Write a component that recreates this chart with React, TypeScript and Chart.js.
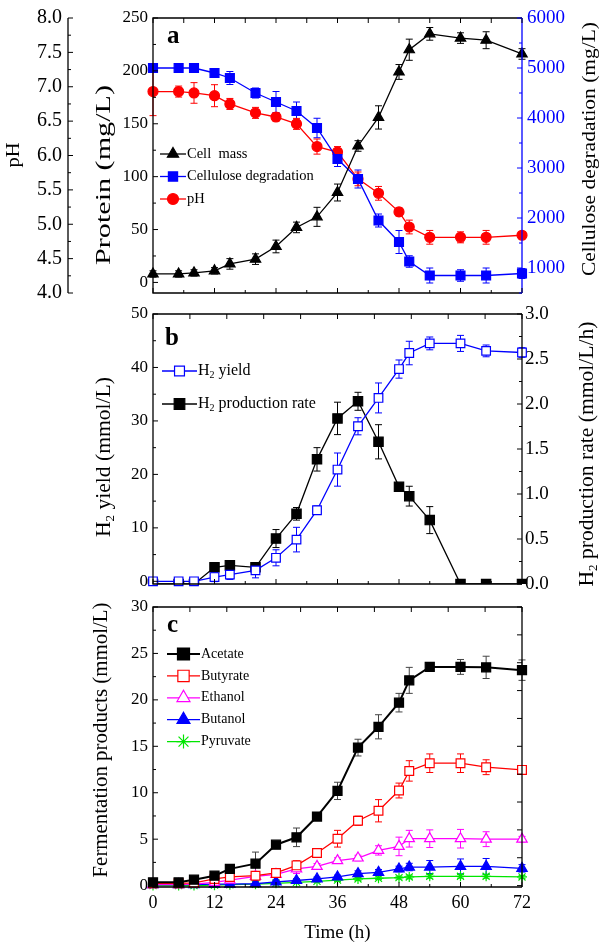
import React, { useEffect, useRef } from 'react';
import { Chart, registerables } from 'chart.js';

Chart.register(...registerables);

const SERIF = '"Liberation Serif", "Times New Roman", Times, serif';
const BLACK = '#000000';
const BLUE = '#0000ff';
const RED = '#ff0000';
const MAGENTA = '#ff00ff';
const GREEN = '#00e600';

// ---------------- data ----------------
const time = [0, 5, 8, 12, 15, 20, 24, 28, 32, 36, 40, 44, 48, 50, 54, 60, 65, 72];

// panel a
const cellMass = [8, 8, 9, 11, 17.5, 22, 34, 52, 62, 85, 129, 156, 199, 220, 235, 231, 229, 216];
const cellMassErr = [3, 3, 3, 3, 5, 5, 6, 5, 9, 8, 5, 11, 7, 10, 6, 5, 8, 5];
const cellulose = [5000, 5000, 5000, 4900, 4800, 4500, 4320, 4140, 3800, 3180, 2780, 1950, 1520, 1130, 850, 850, 850, 890];
const celluloseErr = [50, 60, 70, 80, 130, 100, 210, 180, 195, 150, 180, 130, 230, 115, 150, 115, 150, 100];
const pHValues = [6.93, 6.93, 6.91, 6.87, 6.75, 6.62, 6.56, 6.46, 6.13, 6.05, 5.66, 5.45, 5.18, 4.96, 4.81, 4.81, 4.81, 4.84];
const pHErr = [0.35, 0.08, 0.15, 0.16, 0.08, 0.08, 0.06, 0.08, 0.11, 0.08, 0.1, 0.1, 0.06, 0.1, 0.1, 0.08, 0.1, 0.05];

// panel b
const h2Yield = [0, 0, 0, 0.8, 1.25, 2.05, 4.4, 7.8, 13.3, 20.9, 29.0, 34.3, 39.7, 42.7, 44.5, 44.5, 43.1, 42.8];
const h2YieldErr = [0.2, 0.2, 0.2, 0.85, 0.9, 1.4, 1.5, 2.3, 0.8, 3.1, 1.6, 2.8, 1.7, 2.2, 1.2, 1.5, 1.1, 0.9];
const h2Rate = [0, 0, 0, 0.185, 0.207, 0.185, 0.505, 0.78, 1.385, 1.84, 2.03, 1.58, 1.08, 0.976, 0.71, 0, 0, 0];
const h2RateErr = [0, 0, 0, 0.03, 0.03, 0.03, 0.1, 0.07, 0.13, 0.18, 0.1, 0.19, 0.03, 0.11, 0.15, 0, 0, 0];

// panel c
const acetate = [0.35, 0.35, 0.64, 1.07, 1.8, 2.36, 4.4, 5.2, 7.44, 10.2, 14.86, 17.1, 19.7, 22.1, 23.55, 23.55, 23.5, 23.2];
const acetateErr = [0.2, 0.2, 0.2, 0.2, 0.2, 1.25, 0.3, 1.0, 0.3, 0.93, 0.9, 1.3, 1.0, 1.4, 0.3, 0.8, 1.2, 1.1];
const butyrate = [0.25, 0.25, 0.3, 0.72, 0.93, 1.07, 1.36, 2.18, 3.51, 5.05, 6.98, 8.06, 10.24, 12.35, 13.18, 13.18, 12.75, 12.46];
const butyrateErr = [0.1, 0.1, 0.1, 0.2, 0.2, 0.3, 0.2, 0.5, 0.3, 0.9, 0.5, 1.2, 0.8, 1.1, 1.0, 1.0, 0.8, 0.3];
const ethanol = [0.1, 0.1, 0.15, 0.35, 0.6, 1.0, 1.2, 1.8, 2.07, 2.69, 2.97, 3.79, 4.22, 5.05, 5.05, 5.05, 5.0, 5.0];
const ethanolErr = [0.1, 0.1, 0.1, 0.2, 0.3, 0.4, 0.2, 0.5, 0.3, 0.3, 0.3, 0.5, 1.0, 0.9, 0.95, 1.0, 0.8, 0.3];
const butanol = [0.1, 0.1, 0.1, 0.15, 0.15, 0.2, 0.4, 0.55, 0.72, 0.93, 1.29, 1.43, 1.79, 2.0, 2.0, 2.07, 2.07, 1.86];
const butanolErr = [0.1, 0.1, 0.1, 0.1, 0.1, 0.2, 0.2, 0.2, 0.2, 0.2, 0.3, 0.3, 0.3, 0.4, 0.7, 0.8, 0.85, 0.4];
const pyruvate = [0, 0, 0, 0.05, 0.1, 0.15, 0.25, 0.35, 0.46, 0.6, 0.72, 0.79, 0.86, 0.93, 1.0, 1.0, 1.0, 0.93];
const pyruvateErr = [0.1, 0.1, 0.1, 0.1, 0.1, 0.1, 0.1, 0.1, 0.1, 0.15, 0.15, 0.15, 0.15, 0.2, 0.2, 0.2, 0.2, 0.15];

// ticks
const timeTicks = [0, 12, 24, 36, 48, 60, 72];
const proteinTicks = [0, 50, 100, 150, 200, 250];
const pHTicks = [4.0, 4.5, 5.0, 5.5, 6.0, 6.5, 7.0, 7.5, 8.0];
const celluloseTicks = [1000, 2000, 3000, 4000, 5000, 6000];
const yieldTicks = [0, 10, 20, 30, 40, 50];
const rateTicks = [0, 0.5, 1.0, 1.5, 2.0, 2.5, 3.0];
const productTicks = [0, 5, 10, 15, 20, 25, 30];

// ---------------- helpers ----------------
type Part = { t: string; sub?: boolean };

function drawRich(
  ctx: CanvasRenderingContext2D,
  parts: Part[],
  x: number,
  y: number,
  size: number,
  o: { rotate?: number; len?: number; bold?: boolean; color?: string; left?: boolean } = {}
) {
  ctx.save();
  ctx.translate(x, y);
  if (o.rotate) ctx.rotate(o.rotate);
  const fontFor = (p: Part) => `${o.bold ? 'bold ' : ''}${p.sub ? Math.round(size * 0.62) : size}px ${SERIF}`;
  let total = 0;
  const widths = parts.map((p) => {
    ctx.font = fontFor(p);
    const w = ctx.measureText(p.t).width;
    total += w;
    return w;
  });
  if (o.len) ctx.scale(o.len / total, 1);
  let cx = o.left ? 0 : -total / 2;
  ctx.textBaseline = 'middle';
  ctx.textAlign = 'left';
  ctx.fillStyle = o.color || BLACK;
  parts.forEach((p, i) => {
    ctx.font = fontFor(p);
    ctx.fillText(p.t, cx, p.sub ? size * 0.3 : 0);
    cx += widths[i];
  });
  ctx.restore();
}

function drawMarker(ctx: CanvasRenderingContext2D, style: string, x: number, y: number, r: number, fill: string, stroke: string, lw: number) {
  ctx.save();
  ctx.beginPath();
  ctx.lineWidth = lw;
  ctx.strokeStyle = stroke;
  ctx.fillStyle = fill;
  if (style === 'rect') {
    const s = r * Math.SQRT1_2;
    ctx.rect(x - s, y - s, 2 * s, 2 * s);
  } else if (style === 'circle') {
    ctx.arc(x, y, r, 0, Math.PI * 2);
  } else if (style === 'triangle') {
    ctx.moveTo(x, y - r);
    ctx.lineTo(x + r * 0.866, y + r / 2);
    ctx.lineTo(x - r * 0.866, y + r / 2);
    ctx.closePath();
  } else if (style === 'star') {
    const d = r * Math.SQRT1_2;
    ctx.moveTo(x - r, y); ctx.lineTo(x + r, y);
    ctx.moveTo(x, y - r); ctx.lineTo(x, y + r);
    ctx.moveTo(x - d, y - d); ctx.lineTo(x + d, y + d);
    ctx.moveTo(x - d, y + d); ctx.lineTo(x + d, y - d);
  }
  if (style !== 'star') ctx.fill();
  ctx.stroke();
  ctx.restore();
}

interface TickSpec { scale: string; side: 'left' | 'right' | 'top' | 'bottom' | 'axis'; step: number; minor?: number; color?: string }
interface TitleSpec { parts: Part[]; x: number; y: number; size: number; len?: number; rotate?: number }
interface LegendSpec { x: number; y: number; step: number; len: number; size: number; items: { ds: number; parts: Part[]; r: number }[] }
interface Deco { ticks: TickSpec[]; frameRight?: string; letter: { text: string; dx: number; dy: number }; legend: LegendSpec; titles: TitleSpec[] }

function makeDeco(d: Deco) {
  return {
    id: 'deco',
    beforeDatasetsDraw(chart: any) {
      const ctx: CanvasRenderingContext2D = chart.ctx;
      chart.data.datasets.forEach((ds: any, di: number) => {
        const errs: number[] = ds.errors;
        if (!errs) return;
        const meta = chart.getDatasetMeta(di);
        const ys = chart.scales[meta.yAxisID];
        ctx.save();
        ctx.strokeStyle = ds.errorColor || ds.borderColor;
        ctx.lineWidth = 1;
        meta.data.forEach((pt: any, i: number) => {
          const e = errs[i];
          if (!e) return;
          const v = ds.data[i].y;
          const x = pt.x;
          const y1 = ys.getPixelForValue(v + e);
          const y2 = ys.getPixelForValue(v - e);
          ctx.beginPath();
          ctx.moveTo(x, y1); ctx.lineTo(x, y2);
          ctx.moveTo(x - 3.5, y1); ctx.lineTo(x + 3.5, y1);
          ctx.moveTo(x - 3.5, y2); ctx.lineTo(x + 3.5, y2);
          ctx.stroke();
        });
        ctx.restore();
      });
    },
    afterDraw(chart: any) {
      const ctx: CanvasRenderingContext2D = chart.ctx;
      const a = chart.chartArea;
      ctx.save();
      // frame
      ctx.lineWidth = 1.3;
      ctx.strokeStyle = BLACK;
      ctx.beginPath();
      ctx.moveTo(a.right, a.top); ctx.lineTo(a.left, a.top); ctx.lineTo(a.left, a.bottom); ctx.lineTo(a.right, a.bottom);
      ctx.stroke();
      ctx.strokeStyle = d.frameRight || BLACK;
      ctx.beginPath();
      ctx.moveTo(a.right, a.top); ctx.lineTo(a.right, a.bottom);
      ctx.stroke();
      // inward ticks (and detached axis line)
      d.ticks.forEach((t) => {
        const s = chart.scales[t.scale];
        ctx.strokeStyle = t.color || BLACK;
        if (t.side === 'axis') {
          ctx.lineWidth = 1.3;
          ctx.beginPath();
          ctx.moveTo(s.right, a.top); ctx.lineTo(s.right, a.bottom);
          ctx.stroke();
        }
        ctx.lineWidth = 1;
        const drawAt = (v: number, len: number) => {
          const p = s.getPixelForValue(v);
          ctx.beginPath();
          if (t.side === 'left') { ctx.moveTo(a.left, p); ctx.lineTo(a.left + len, p); }
          else if (t.side === 'right') { ctx.moveTo(a.right, p); ctx.lineTo(a.right - len, p); }
          else if (t.side === 'axis') { ctx.moveTo(s.right, p); ctx.lineTo(s.right + len, p); }
          else if (t.side === 'bottom') { ctx.moveTo(p, a.bottom); ctx.lineTo(p, a.bottom - len); }
          else { ctx.moveTo(p, a.top); ctx.lineTo(p, a.top + len); }
          ctx.stroke();
        };
        const lo = s.min, hi = s.max;
        for (let k = Math.ceil(lo / t.step - 1e-9); k * t.step <= hi + 1e-9; k++) drawAt(k * t.step, 5);
        if (t.minor) {
          for (let k = Math.ceil(lo / t.minor - 1e-9); k * t.minor <= hi + 1e-9; k++) {
            const v = k * t.minor;
            if (Math.abs(v / t.step - Math.round(v / t.step)) < 1e-6) continue;
            drawAt(v, 3);
          }
        }
      });
      // panel letter
      ctx.fillStyle = BLACK;
      ctx.font = `bold 25px ${SERIF}`;
      ctx.textBaseline = 'alphabetic';
      ctx.textAlign = 'left';
      ctx.fillText(d.letter.text, a.left + d.letter.dx, a.top + d.letter.dy);
      // legend
      const lg = d.legend;
      lg.items.forEach((it, i) => {
        const ds = chart.data.datasets[it.ds];
        const y = a.top + lg.y + i * lg.step;
        const x0 = a.left + lg.x;
        ctx.strokeStyle = ds.borderColor;
        ctx.lineWidth = ds.borderWidth;
        ctx.beginPath();
        ctx.moveTo(x0, y); ctx.lineTo(x0 + lg.len, y);
        ctx.stroke();
        drawMarker(ctx, ds.pointStyle, x0 + lg.len / 2, y, it.r, ds.pointBackgroundColor, ds.pointBorderColor, ds.pointBorderWidth || 1);
        drawRich(ctx, it.parts, x0 + lg.len + 1, y, lg.size, { left: true });
      });
      // axis titles
      d.titles.forEach((t) => drawRich(ctx, t.parts, t.x, t.y, t.size, { rotate: t.rotate, len: t.len }));
      ctx.restore();
    },
  };
}

function vAxis(min: number, max: number, vals: number[], digits: number, size: number, pad: number, width: number, color: string) {
  return {
    type: 'linear',
    min,
    max,
    grid: { display: false, drawTicks: false },
    border: { display: false },
    ticks: {
      font: { family: SERIF, size },
      color,
      padding: pad,
      autoSkip: false,
      callback: (v: any) => Number(v).toFixed(digits),
    },
    afterBuildTicks: (s: any) => { s.ticks = vals.map((v) => ({ value: v })); },
    afterFit: (s: any) => { s.width = width; },
  };
}

const pts = (arr: number[]) => time.map((t, i) => ({ x: t, y: arr[i] }));

function series(label: string, arr: number[], err: number[], axis: string, color: string, style: string, r: number, filled: boolean, lw = 1.3, extra: any = {}) {
  return {
    label,
    data: pts(arr),
    errors: err,
    yAxisID: axis,
    borderColor: color,
    backgroundColor: color,
    borderWidth: lw,
    pointStyle: style,
    pointRadius: r,
    pointBackgroundColor: filled ? color : '#ffffff',
    pointBorderColor: color,
    pointBorderWidth: 1.2,
    clip: false,
    ...extra,
  };
}

const baseOptions = (padding: any) => ({
  animation: false,
  responsive: false,
  devicePixelRatio: 1,
  events: [],
  layout: { padding },
  plugins: { legend: { display: false }, tooltip: { enabled: false } },
});

const ROT = -Math.PI / 2;

function configA() {
  return {
    type: 'line',
    data: {
      datasets: [
        series('Cell  mass', cellMass, cellMassErr, 'yP', BLACK, 'triangle', 6, true),
        series('Cellulose degradation', cellulose, celluloseErr, 'yC', BLUE, 'rect', 6.3, true),
        series('pH', pHValues, pHErr, 'yH', RED, 'circle', 5, true),
      ],
    },
    options: {
      ...baseOptions({ top: 11, bottom: 27, left: 0, right: 0 }),
      scales: {
        x: { type: 'linear', min: 0, max: 72, display: false },
        yP: { position: 'left', weight: 1, ...vAxis(-10, 250, proteinTicks, 0, 17, 5, 85, BLACK) },
        yH: { position: 'left', weight: 2, ...vAxis(4, 8, pHTicks, 1, 20, 6, 68, BLACK) },
        yC: { position: 'right', ...vAxis(500, 6000, celluloseTicks, 0, 19, 5, 78, BLUE) },
      },
    },
    plugins: [
      makeDeco({
        frameRight: BLUE,
        ticks: [
          { scale: 'x', side: 'bottom', step: 12, minor: 6 },
          { scale: 'x', side: 'top', step: 6 },
          { scale: 'yP', side: 'left', step: 50, minor: 25 },
          { scale: 'yH', side: 'axis', step: 0.5, minor: 0.25 },
          { scale: 'yC', side: 'right', step: 1000, minor: 500, color: BLUE },
        ],
        letter: { text: 'a', dx: 14, dy: 25 },
        legend: {
          x: 7, y: 136, step: 22.5, len: 26, size: 14.5,
          items: [
            { ds: 0, parts: [{ t: 'Cell  mass' }], r: 6.5 },
            { ds: 1, parts: [{ t: 'Cellulose degradation' }], r: 6.5 },
            { ds: 2, parts: [{ t: 'pH' }], r: 5.5 },
          ],
        },
        titles: [
          { parts: [{ t: 'pH' }], x: 14, y: 155, size: 18, len: 25, rotate: ROT },
          { parts: [{ t: 'Protein (mg/L)' }], x: 104, y: 175, size: 21, len: 180, rotate: ROT },
          { parts: [{ t: 'Cellulose degradation (mg/L)' }], x: 590, y: 149, size: 19, len: 254, rotate: ROT },
        ],
      }),
    ],
  };
}

function configB() {
  return {
    type: 'line',
    data: {
      datasets: [
        series('H2 yield', h2Yield, h2YieldErr, 'yL', BLUE, 'rect', 6.1, false),
        series('H2 production rate', h2Rate, h2RateErr, 'yR', BLACK, 'rect', 6.6, true, 1.3, {
          clip: { left: false, right: false, top: false, bottom: 0 },
        }),
      ],
    },
    options: {
      ...baseOptions({ top: 24, bottom: 26, left: 0, right: 0 }),
      scales: {
        x: { type: 'linear', min: 0, max: 72, display: false },
        yL: { position: 'left', ...vAxis(-0.5, 50, yieldTicks, 0, 17, 5, 153, BLACK) },
        yR: { position: 'right', ...vAxis(0, 3, rateTicks, 1, 19, 3, 78, BLACK) },
      },
    },
    plugins: [
      makeDeco({
        ticks: [
          { scale: 'x', side: 'bottom', step: 12, minor: 6 },
          { scale: 'x', side: 'top', step: 7.2 },
          { scale: 'yL', side: 'left', step: 10, minor: 5 },
          { scale: 'yR', side: 'right', step: 0.5, minor: 0.25 },
        ],
        letter: { text: 'b', dx: 12, dy: 31 },
        legend: {
          x: 9, y: 57, step: 33, len: 35, size: 16,
          items: [
            { ds: 0, parts: [{ t: 'H' }, { t: '2', sub: true }, { t: ' yield' }], r: 7 },
            { ds: 1, parts: [{ t: 'H' }, { t: '2', sub: true }, { t: ' production rate' }], r: 7.5 },
          ],
        },
        titles: [
          { parts: [{ t: 'H' }, { t: '2', sub: true }, { t: ' yield (mmol/L)' }], x: 105, y: 167, size: 20, len: 160, rotate: ROT },
          { parts: [{ t: 'H' }, { t: '2', sub: true }, { t: ' production rate (mmol/L/h)' }], x: 588, y: 164, size: 20, len: 265, rotate: ROT },
        ],
      }),
    ],
  };
}

function configC() {
  return {
    type: 'line',
    data: {
      datasets: [
        series('Acetate', acetate, acetateErr, 'yL', BLACK, 'rect', 6.4, true, 2, { errorColor: '#444444' }),
        series('Butyrate', butyrate, butyrateErr, 'yL', RED, 'rect', 6.2, false),
        series('Ethanol', ethanol, ethanolErr, 'yL', MAGENTA, 'triangle', 6, false),
        series('Butanol', butanol, butanolErr, 'yL', BLUE, 'triangle', 6, true),
        series('Pyruvate', pyruvate, pyruvateErr, 'yL', GREEN, 'star', 5, false),
      ],
    },
    options: {
      ...baseOptions({ top: 17, bottom: 0, left: 0, right: 78 }),
      scales: {
        x: {
          type: 'linear',
          min: 0,
          max: 72,
          position: 'bottom',
          grid: { display: false, drawTicks: false },
          border: { display: false },
          ticks: { font: { family: SERIF, size: 18 }, color: BLACK, padding: 5, autoSkip: false, maxRotation: 0 },
          afterBuildTicks: (s: any) => { s.ticks = timeTicks.map((v) => ({ value: v })); },
          afterFit: (s: any) => { s.height = 59; },
          title: { display: true, text: 'Time (h)', font: { family: SERIF, size: 19 }, color: BLACK, padding: { top: 0, bottom: 2 } },
        },
        yL: { position: 'left', ...vAxis(-0.15, 30, productTicks, 0, 17, 5, 153, BLACK) },
      },
    },
    plugins: [
      makeDeco({
        ticks: [
          { scale: 'x', side: 'bottom', step: 12, minor: 6 },
          { scale: 'x', side: 'top', step: 7.2 },
          { scale: 'yL', side: 'left', step: 5, minor: 2.5 },
          { scale: 'yL', side: 'right', step: 3 },
        ],
        letter: { text: 'c', dx: 14, dy: 25 },
        legend: {
          x: 14, y: 47, step: 21.9, len: 33, size: 14,
          items: [
            { ds: 0, parts: [{ t: 'Acetate' }], r: 8.5 },
            { ds: 1, parts: [{ t: 'Butyrate' }], r: 8 },
            { ds: 2, parts: [{ t: 'Ethanol' }], r: 7.5 },
            { ds: 3, parts: [{ t: 'Butanol' }], r: 7.5 },
            { ds: 4, parts: [{ t: 'Pyruvate' }], r: 7 },
          ],
        },
        titles: [
          { parts: [{ t: 'Fermentation products (mmol/L)' }], x: 102, y: 150, size: 20, len: 275, rotate: ROT },
        ],
      }),
    ],
  };
}

function Panel({ top, height, build }: { top: number; height: number; build: () => any }) {
  const ref = useRef<HTMLCanvasElement>(null);
  useEffect(() => {
    const chart = new Chart(ref.current as HTMLCanvasElement, build());
    return () => chart.destroy();
  }, []);
  return (
    <canvas
      ref={ref}
      width={600}
      height={height}
      style={{ position: 'absolute', left: 0, top, width: 600, height, display: 'block' }}
    />
  );
}

export default function App() {
  return (
    <div style={{ position: 'absolute', left: 0, top: 0, width: 600, height: 946, background: '#ffffff', overflow: 'hidden' }}>
      <Panel top={0} height={320} build={configA} />
      <Panel top={290} height={320} build={configB} />
      <Panel top={590} height={356} build={configC} />
    </div>
  );
}
